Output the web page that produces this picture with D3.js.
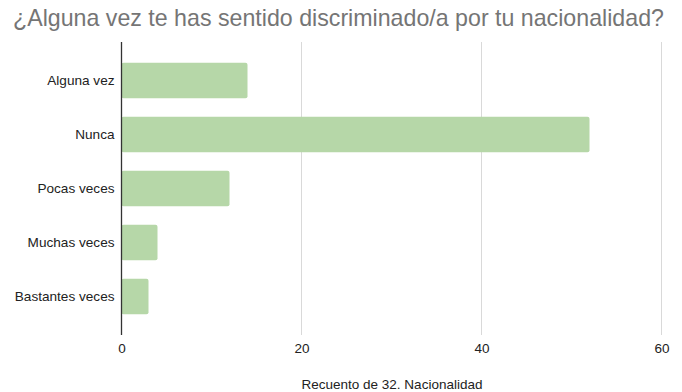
<!DOCTYPE html>
<html><head><meta charset="utf-8">
<script src="https://cdn.jsdelivr.net/npm/d3@7"></script>
<style>body{margin:0;background:#fff;}svg{display:block;font-family:"Liberation Sans",Arial,sans-serif;}</style>
</head><body>
<svg id="c" width="682" height="392"></svg>
<script>
const categories = ["Alguna vez","Nunca","Pocas veces","Muchas veces","Bastantes veces"];
const values = [14,52,12,4,3];
const xTicks = [0,20,40,60];
const title = "¿Alguna vez te has sentido discriminado/a por tu nacionalidad?";
const xTitle = "Recuento de 32. Nacionalidad";

(function(){
const svg = d3.select("#c");
const pl = 121.5, pr = 661.5, pt = 42, pb = 335;
const x = d3.scaleLinear().domain([0,60]).range([pl,pr]);
const y = d3.scaleBand().domain(categories).range([pt,pb]).paddingInner(0.34).paddingOuter(0.383);

svg.append("text").attr("x",13).attr("y",26).attr("fill","#757575")
  .style("font-size","23.2px").text(title);

svg.append("g").selectAll("line").data(xTicks.filter(d=>d>0)).join("line")
  .attr("x1",d=>x(d)).attr("x2",d=>x(d)).attr("y1",pt).attr("y2",pb)
  .attr("stroke","#d9d9d9").attr("stroke-width",1);

svg.append("g").selectAll("rect").data(categories).join("rect")
  .attr("x",x(0)).attr("y",d=>y(d)).attr("height",y.bandwidth())
  .attr("width",(d,i)=>x(values[i])-x(0)).attr("rx",2)
  .attr("fill","#b6d7a8");

svg.append("line").attr("x1",x(0)).attr("x2",x(0)).attr("y1",pt).attr("y2",pb)
  .attr("stroke","#333").attr("stroke-width",1.3);

const xa = svg.append("g").attr("transform",`translate(0,${pb})`)
  .call(d3.axisBottom(x).tickValues(xTicks).tickSize(0).tickPadding(8));
xa.select(".domain").remove();
xa.selectAll("text").attr("fill","#222").style("font-size","13.5px").style("font-family","Liberation Sans, Arial, sans-serif");

const ya = svg.append("g").attr("transform",`translate(${x(0)},0)`)
  .call(d3.axisLeft(y).tickSize(0).tickPadding(7));
ya.select(".domain").remove();
ya.selectAll("text").attr("fill","#222").style("font-size","13.6px").style("font-family","Liberation Sans, Arial, sans-serif");

svg.append("text").attr("x",392).attr("y",389).attr("text-anchor","middle")
  .attr("fill","#222").style("font-size","13.5px").text(xTitle);
})();
</script>
</body></html>
